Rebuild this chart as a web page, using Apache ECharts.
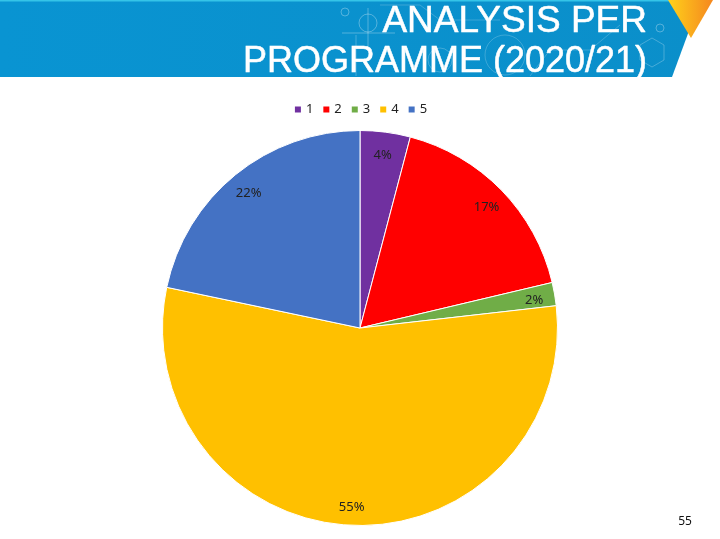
<!DOCTYPE html>
<html><head><meta charset="utf-8">
<style>html,body{margin:0;padding:0;background:#fff}#c{width:720px;height:539px}</style>
<script src="https://cdn.jsdelivr.net/npm/echarts@6/dist/echarts.min.js"></script>
</head><body><div id="c"></div>
<script>
const categories = ['1','2','3','4','5'];
const values = [4.1,17.2,1.9,55.1,21.7];
const colors = ['#7030A0','#FF0000','#70AD47','#FFC000','#4472C4'];
const titleLines = ['ANALYSIS PER','PROGRAMME (2020/21)'];
const pageNumber = '55';

const data = categories.map((n,i)=>({name:n,value:values[i]}));
const deco = {type:'group',silent:true,children:[
  {type:'circle',shape:{cx:368,cy:23,r:9},style:{fill:'none',stroke:'rgba(255,255,255,0.3)',lineWidth:1}},
  {type:'line',shape:{x1:342,y1:33,x2:395,y2:33},style:{stroke:'rgba(255,255,255,0.3)',lineWidth:1}},
  {type:'line',shape:{x1:368,y1:8,x2:368,y2:50},style:{stroke:'rgba(255,255,255,0.3)',lineWidth:1}},
  {type:'polyline',shape:{points:[[356,35],[356,76]]},style:{stroke:'rgba(255,255,255,0.25)',lineWidth:1}},
  {type:'circle',shape:{cx:345,cy:12,r:4},style:{fill:'none',stroke:'rgba(255,255,255,0.3)',lineWidth:1}},
  {type:'circle',shape:{cx:440,cy:60,r:12},style:{fill:'none',stroke:'rgba(255,255,255,0.22)',lineWidth:1}},
  {type:'circle',shape:{cx:505,cy:55,r:20},style:{fill:'none',stroke:'rgba(255,255,255,0.2)',lineWidth:1}},
  {type:'polyline',shape:{points:[[380,5],[420,5],[440,20],[500,20]]},style:{fill:'none',stroke:'rgba(255,255,255,0.2)',lineWidth:1}},
  {type:'polyline',shape:{points:[[640,45],[652,38],[664,45],[664,60],[652,67],[640,60],[640,45]]},style:{fill:'none',stroke:'rgba(255,255,255,0.25)',lineWidth:1}},
  {type:'polyline',shape:{points:[[530,76],[550,50],[590,50],[620,25]]},style:{fill:'none',stroke:'rgba(255,255,255,0.2)',lineWidth:1}},
  {type:'circle',shape:{cx:660,cy:28,r:4},style:{fill:'none',stroke:'rgba(255,255,255,0.3)',lineWidth:1}}
]};
const chart = echarts.init(document.getElementById('c'),null,{renderer:'canvas'});
chart.setOption({
  animation:false,
  color:colors,
  legend:{data:categories,top:98,left:'center',itemWidth:8,itemHeight:8,itemGap:8,icon:'rect',
    textStyle:{fontFamily:'Noto Sans',fontSize:13,color:'#222',padding:[0,0,0,-1]}},
  graphic:[
    {type:'polygon',z:-1,shape:{points:[[0,1],[700,1],[672,77],[0,77]]},
      style:{fill:{type:'linear',x:0,y:0,x2:1,y2:0,colorStops:[{offset:0,color:'#0994d2'},{offset:1,color:'#0b8fca'}]}}},
    {type:'rect',z:-1,shape:{x:0,y:0,width:700,height:1.5},style:{fill:'#35c4e8'}},
    deco,
    {type:'polygon',z:1,shape:{points:[[668,0],[713,0],[691,38]]},
      style:{fill:{type:'linear',x:0,y:0,x2:1,y2:0,colorStops:[{offset:0,color:'#ffd21a'},{offset:1,color:'#f5871f'}]}}},
    {type:'text',z:2,style:{x:647,y:22,text:titleLines[0],align:'right',verticalAlign:'middle',
      font:'37px "Liberation Sans"',fill:'#fff',stroke:'#fff',lineWidth:0.5}},
    {type:'text',z:2,style:{x:647,y:62,text:titleLines[1],align:'right',verticalAlign:'middle',
      font:'36px "Liberation Sans"',fill:'#fff',stroke:'#fff',lineWidth:0.5}},
    {type:'text',z:2,style:{x:685,y:522,text:pageNumber,align:'center',verticalAlign:'middle',
      font:'12px "Noto Sans"',fill:'#111'}}
  ],
  series:[
    {type:'pie',center:[360,328],radius:[0,197.5],startAngle:90,clockwise:true,data,
      label:{show:false},labelLine:{show:false},silent:true,
      itemStyle:{borderColor:'#fff',borderWidth:1}},
    {type:'pie',center:[360,331],radius:[150,197.5],startAngle:90,clockwise:true,data,silent:true,percentPrecision:0,
      itemStyle:{color:'rgba(0,0,0,0)',borderWidth:0},
      label:{show:true,position:'inside',formatter:'{d}%',
        fontFamily:'Noto Sans',fontSize:13,color:'#222'},
      labelLine:{show:false}}
  ]
});
</script></body></html>
